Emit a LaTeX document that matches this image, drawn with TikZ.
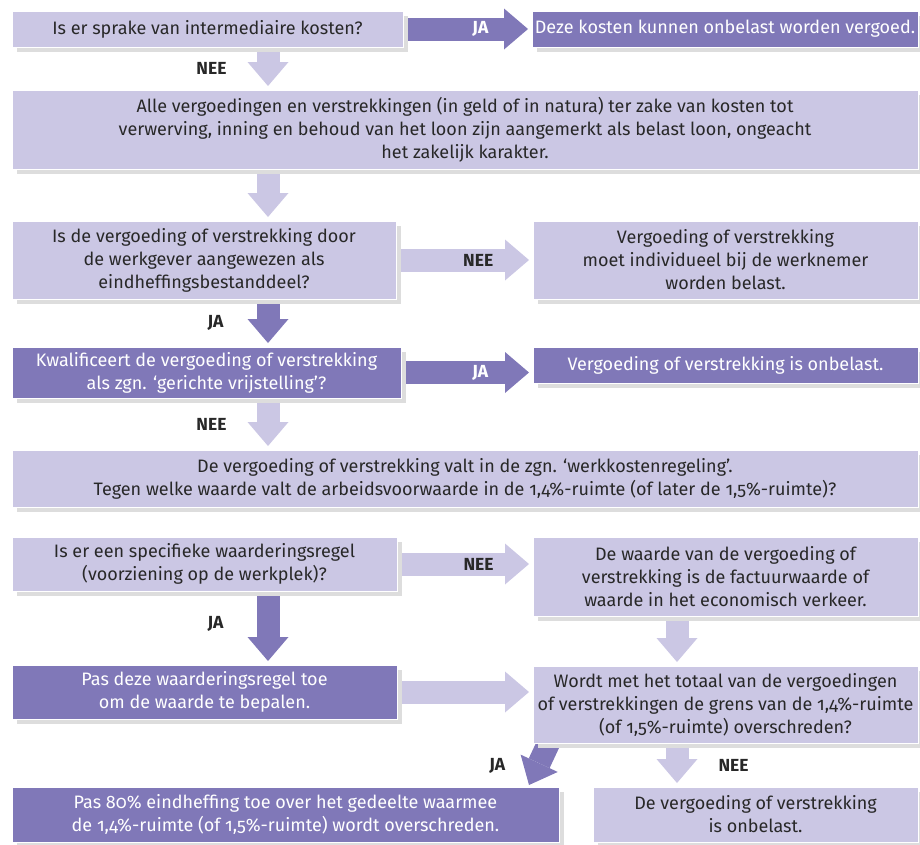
\documentclass[tikz,border=0pt]{standalone}
\usepackage{fontspec}
\setmainfont{Fira Sans}[Numbers=OldStyle]
\usepackage{tikz}
\usetikzlibrary{arrows.meta,positioning,calc,shadows,backgrounds}
\usepackage{xcolor}
\definecolor{lilaclight}{RGB}{203,199,228}
\definecolor{lilacdark}{RGB}{128,120,184}
\definecolor{shadowgrey}{RGB}{221,221,221}
\definecolor{textgrey}{RGB}{40,40,40}
\newcommand{\boxfont}{\fontsize{18}{23}\selectfont}
\newcommand{\lblfont}{\fontsize{17.5}{20}\selectfont\bfseries}

\begin{document}
\begin{tikzpicture}[x=1pt, y=-1pt,
  box/.style={anchor=north west, inner sep=0pt, outer sep=0pt, draw=white,
    line width=1pt, align=center, font=\boxfont,
    drop shadow={shadow xshift=5pt, shadow yshift=-5pt, fill=shadowgrey, opacity=1}},
  lightbox/.style={box, fill=lilaclight, text=textgrey},
  darkbox/.style={box, fill=lilacdark, text=white},
  fatlight/.style={draw=lilaclight, line width=23pt,
    -{Triangle[width=41pt,length=24pt,line width=0pt]},
    shorten <=4pt, shorten >=4pt},
  fatdark/.style={fatlight, draw=lilacdark},
  lbl/.style={font=\lblfont, text=textgrey, inner sep=0pt},
  inlbl/.style={lbl, pos=0.6},
]
  \useasboundingbox (0,0) rectangle (920,844);
  % columns of the downward arrows
  \coordinate (colL) at (268,0);
  \coordinate (colR) at (677,0);

  % Row 1: intermediaire kosten
  \node[lightbox, minimum width=391pt, minimum height=36pt] (intermed) at (12,11)
    {Is er sprake van intermediaire kosten?};
  \node[darkbox, minimum width=386pt, minimum height=36pt] (onbelast1) at (532,11)
    {Deze kosten kunnen onbelast worden vergoed.};
  % Row 2: belast loon
  \node[lightbox, minimum width=906pt, minimum height=79pt] (belastloon) at (12,90)
    {Alle vergoedingen en verstrekkingen (in geld of in natura) ter zake van kosten tot\\
     verwerving, inning en behoud van het loon zijn aangemerkt als belast loon, ongeacht\\
     het zakelijk karakter.};
  % Row 3: eindheffingsbestanddeel
  \node[lightbox, minimum width=384pt, minimum height=78pt] (aangewezen) at (12,221)
    {Is de vergoeding of verstrekking door\\ de werkgever aangewezen als\\ eindheffingsbestanddeel?};
  \node[lightbox, minimum width=385pt, minimum height=78pt] (individueel) at (533,221)
    {Vergoeding of verstrekking\\ moet individueel bij de werknemer\\ worden belast.};
  % Row 4: gerichte vrijstelling
  \node[darkbox, minimum width=389pt, minimum height=51pt] (gericht) at (12,347)
    {Kwalificeert de vergoeding of verstrekking\\ als zgn. ‘gerichte vrijstelling’?};
  \node[darkbox, minimum width=385pt, minimum height=36pt] (onbelast2) at (533,347)
    {Vergoeding of verstrekking is onbelast.};
  % Row 5: werkkostenregeling
  \node[lightbox, minimum width=906pt, minimum height=57pt] (wkr) at (12,450)
    {De vergoeding of verstrekking valt in de zgn. ‘werkkostenregeling’.\\
     Tegen welke waarde valt de arbeidsvoorwaarde in de 1,4\%-ruimte (of later de 1,5\%-ruimte)?};
  % Row 6: waarderingsregel
  \node[lightbox, minimum width=385pt, minimum height=54pt] (specifiek) at (12,537)
    {Is er een specifieke waarderingsregel\\ (voorziening op de werkplek)?};
  \node[lightbox, minimum width=385pt, minimum height=79pt] (factuur) at (533,537)
    {De waarde van de vergoeding of\\ verstrekking is de factuurwaarde of\\ waarde in het economisch verkeer.};
  % Row 7: ruimte overschreden?
  \node[darkbox, minimum width=385pt, minimum height=54pt] (toepassen) at (12,665)
    {Pas deze waarderingsregel toe\\ om de waarde te bepalen.};
  \node[lightbox, minimum width=385pt, minimum height=77pt] (overschreden) at (533,666)
    {Wordt met het totaal van de vergoedingen\\ of verstrekkingen de grens van de 1,4\%-ruimte\\ (of 1,5\%-ruimte) overschreden?};
  % Row 8: uitkomst
  \node[darkbox, minimum width=547pt, minimum height=55pt] (eindheffing) at (12,787)
    {Pas 80\% eindheffing toe over het gedeelte waarmee\\ de 1,4\%-ruimte (of 1,5\%-ruimte) wordt overschreden.};
  \node[lightbox, minimum width=325pt, minimum height=55pt] (onbelast3) at (593,787)
    {De vergoeding of verstrekking\\ is onbelast.};

  % Fat arrows between the boxes
  \begin{scope}[on background layer]
    \draw[fatdark] (intermed.east) -- node[inlbl, text=white] {JA} (onbelast1.west |- intermed.east);
    \draw[fatlight] (intermed.south -| colL) -- node[lbl, left=30pt] {NEE} (belastloon.north -| colL);
    \draw[fatlight] (belastloon.south -| colL) -- (aangewezen.north -| colL);
    \draw[fatlight] (aangewezen.east) -- node[inlbl] {NEE} (individueel.west);
    \draw[fatdark] (aangewezen.south -| colL) -- node[lbl, left=33pt] {JA} (gericht.north -| colL);
    \draw[fatdark] (gericht.east) -- node[inlbl, text=white] {JA} (onbelast2.west |- gericht.east);
    \draw[fatlight] (gericht.south -| colL) -- node[lbl, left=30pt] {NEE} (wkr.north -| colL);
    \draw[fatlight] (specifiek.east) -- node[inlbl] {NEE} (factuur.west |- specifiek.east);
    \draw[fatdark] (specifiek.south -| colL) -- node[lbl, left=33pt, pos=0.45] {JA} (toepassen.north -| colL);
    \draw[fatlight] (factuur.south -| colR) -- (overschreden.north -| colR);
    \draw[fatlight] (toepassen.east) -- (overschreden.west |- toepassen.east);
    \draw[fatdark, shorten <=0pt, shorten >=0pt] ([xshift=18pt,yshift=5pt]overschreden.south west)
      -- node[lbl, left=21pt, pos=0.6] {JA} ([xshift=-30pt,yshift=2pt]eindheffing.north east);
    \draw[fatlight] (overschreden.south -| colR) -- node[lbl, right=30pt] {NEE} (onbelast3.north -| colR);
  \end{scope}
\end{tikzpicture}
\end{document}
